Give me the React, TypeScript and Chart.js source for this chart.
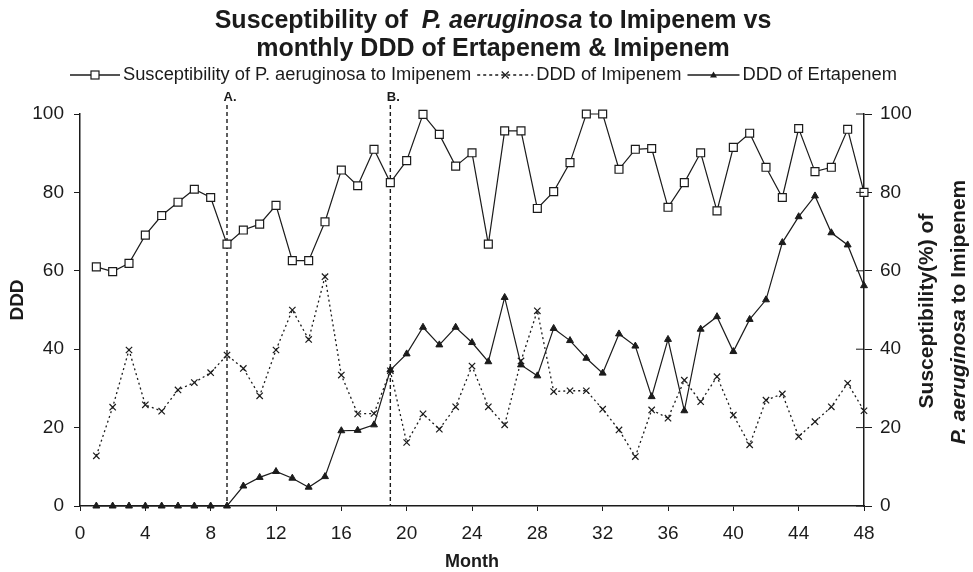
import React, { useEffect, useRef } from 'react';
import { Chart, registerables } from 'chart.js';

Chart.register(...registerables);

// ---------- data ----------
const months = [
  1, 2, 3, 4, 5, 6, 7, 8, 9, 10, 11, 12, 13, 14, 15, 16, 17, 18, 19, 20, 21, 22, 23, 24,
  25, 26, 27, 28, 29, 30, 31, 32, 33, 34, 35, 36, 37, 38, 39, 40, 41, 42, 43, 44, 45, 46, 47, 48,
];

// Susceptibility (%) of P. aeruginosa to Imipenem (right axis)
const susceptibility = [
  61.0, 59.8, 61.9, 69.1, 74.1, 77.5, 80.8, 78.7, 66.8, 70.4,
  71.9, 76.7, 62.6, 62.6, 72.5, 85.7, 81.7, 91.0, 82.5, 88.1,
  99.9, 94.8, 86.7, 90.1, 66.8, 95.7, 95.7, 75.9, 80.2, 87.6,
  100, 100, 85.9, 91.0, 91.2, 76.2, 82.5, 90.1, 75.3, 91.5,
  95.1, 86.4, 78.7, 96.3, 85.3, 86.4, 96.1, 80.0,
];

// DDD of Imipenem (left axis)
const imipenemDDD = [
  12.8, 25.2, 39.8, 25.8, 24.2, 29.6, 31.5, 34.0, 38.5, 35.1,
  28.1, 39.8, 50.0, 42.5, 58.5, 33.4, 23.5, 23.6, 34.5, 16.2,
  23.5, 19.6, 25.3, 35.7, 25.3, 20.7, 37.0, 49.8, 29.2, 29.4,
  29.4, 24.7, 19.4, 12.6, 24.5, 22.4, 32.1, 26.6, 33.0, 23.2,
  15.6, 27.0, 28.6, 17.7, 21.5, 25.3, 31.3, 24.3,
];

// DDD of Ertapenem (left axis)
const ertapenemDDD = [
  0, 0, 0, 0, 0, 0, 0, 0, 0, 5.1,
  7.3, 8.8, 7.1, 4.8, 7.5, 19.2, 19.3, 20.7, 34.7, 38.8,
  45.6, 41.1, 45.6, 41.7, 36.8, 53.2, 36.0, 33.2, 45.3, 42.2,
  37.7, 33.9, 43.9, 40.8, 27.9, 42.5, 24.3, 45.1, 48.3, 39.4,
  47.6, 52.6, 67.2, 73.8, 79.1, 69.7, 66.6, 56.2,
];

const eventMonths = [9, 19];
const eventLabels = ['A.', 'B.'];

const seriesNames = [
  'Susceptibility of P. aeruginosa to Imipenem',
  'DDD of Imipenem',
  'DDD of Ertapenem',
];

// ---------- styles ----------
const INK = '#1b1b1b';
const FONT = '"Liberation Sans", Arial, Helvetica, sans-serif';

type Seg = { t: string; italic?: boolean };

function fontStr(size: number, bold: boolean, italic?: boolean) {
  return `${italic ? 'italic ' : ''}${bold ? 'bold ' : ''}${size}px ${FONT}`;
}

function drawSegs(ctx: CanvasRenderingContext2D, segs: Seg[], cx: number, cy: number, size: number, bold: boolean) {
  const widths = segs.map((s) => {
    ctx.font = fontStr(size, bold, s.italic);
    return ctx.measureText(s.t).width;
  });
  const total = widths.reduce((a, b) => a + b, 0);
  let x = cx - total / 2;
  ctx.textAlign = 'left';
  ctx.textBaseline = 'middle';
  segs.forEach((s, i) => {
    ctx.font = fontStr(size, bold, s.italic);
    ctx.fillText(s.t, x, cy);
    x += widths[i];
  });
}

function marker(ctx: CanvasRenderingContext2D, kind: string, x: number, y: number) {
  ctx.save();
  ctx.setLineDash([]);
  ctx.strokeStyle = INK;
  ctx.fillStyle = INK;
  ctx.lineWidth = 1.2;
  if (kind === 'rect') {
    ctx.fillStyle = '#fff';
    ctx.fillRect(x - 4, y - 4, 8, 8);
    ctx.strokeRect(x - 4, y - 4, 8, 8);
  } else if (kind === 'cross') {
    ctx.beginPath();
    ctx.moveTo(x - 3.5, y - 3.5);
    ctx.lineTo(x + 3.5, y + 3.5);
    ctx.moveTo(x + 3.5, y - 3.5);
    ctx.lineTo(x - 3.5, y + 3.5);
    ctx.stroke();
  } else {
    ctx.beginPath();
    ctx.moveTo(x, y - 3.5);
    ctx.lineTo(x + 3.5, y + 2.5);
    ctx.lineTo(x - 3.5, y + 2.5);
    ctx.closePath();
    ctx.fill();
  }
  ctx.restore();
}

const decorPlugin = {
  id: 'decor',
  beforeDatasetsDraw(chart: any) {
    const ctx: CanvasRenderingContext2D = chart.ctx;
    const xs = chart.scales.x;
    const ca = chart.chartArea;
    ctx.save();
    eventMonths.forEach((m, i) => {
      const px = xs.getPixelForValue(m);
      ctx.strokeStyle = INK;
      ctx.lineWidth = 1.4;
      ctx.setLineDash([4, 3]);
      ctx.beginPath();
      ctx.moveTo(px, ca.top - 9);
      ctx.lineTo(px, ca.bottom);
      ctx.stroke();
      ctx.setLineDash([]);
      ctx.fillStyle = INK;
      ctx.font = fontStr(13, true);
      ctx.textAlign = 'center';
      ctx.textBaseline = 'middle';
      ctx.fillText(eventLabels[i], px + 3, ca.top - 17);
    });
    ctx.restore();
  },
  afterDraw(chart: any) {
    const ctx: CanvasRenderingContext2D = chart.ctx;
    const ca = chart.chartArea;
    const y1 = chart.scales.y1;
    ctx.save();
    ctx.fillStyle = INK;

    // title
    drawSegs(ctx, [
      { t: 'Susceptibility of  ' },
      { t: 'P. aeruginosa', italic: true },
      { t: ' to Imipenem vs' },
    ], 493, 21, 25, true);
    drawSegs(ctx, [{ t: 'monthly DDD of Ertapenem & Imipenem' }], 493, 49, 25, true);

    // legend
    const ly = 75;
    const lsize = 18.3;
    let x = 70;
    const kinds = ['rect', 'cross', 'tri'];
    const sampleW = [50, 56, 52];
    seriesNames.forEach((name, i) => {
      ctx.save();
      ctx.strokeStyle = INK;
      ctx.lineWidth = 1.3;
      ctx.setLineDash(i === 1 ? [3, 3] : []);
      ctx.beginPath();
      ctx.moveTo(x, ly);
      ctx.lineTo(x + sampleW[i], ly);
      ctx.stroke();
      ctx.restore();
      marker(ctx, kinds[i], x + sampleW[i] / 2, ly);
      x += sampleW[i] + 3;
      ctx.font = fontStr(lsize, false);
      ctx.textAlign = 'left';
      ctx.textBaseline = 'middle';
      ctx.fillStyle = INK;
      ctx.fillText(name, x, ly);
      x += ctx.measureText(name).width + 6;
    });

    // right axis inward tick halves
    ctx.strokeStyle = INK;
    ctx.lineWidth = 1;
    y1.ticks.forEach((t: any) => {
      const py = y1.getPixelForValue(t.value);
      ctx.beginPath();
      ctx.moveTo(ca.right - 8, py);
      ctx.lineTo(ca.right, py);
      ctx.stroke();
    });

    // axis titles
    ctx.fillStyle = INK;
    drawSegs(ctx, [{ t: 'Month' }], 472, 562, 18, true);

    ctx.save();
    ctx.translate(18, 300);
    ctx.rotate(-Math.PI / 2);
    drawSegs(ctx, [{ t: 'DDD' }], 0, 0, 19, true);
    ctx.restore();

    ctx.save();
    ctx.translate(927, 311);
    ctx.rotate(-Math.PI / 2);
    drawSegs(ctx, [{ t: 'Susceptibility(%) of' }], 0, 0, 21, true);
    ctx.restore();

    ctx.save();
    ctx.translate(959, 312);
    ctx.rotate(-Math.PI / 2);
    drawSegs(ctx, [{ t: 'P. aeruginosa', italic: true }, { t: ' to Imipenem' }], 0, 0, 21, true);
    ctx.restore();

    ctx.restore();
  },
};

export default function App() {
  const ref = useRef<HTMLCanvasElement | null>(null);

  useEffect(() => {
    if (!ref.current) return;
    const pts = (arr: number[]) => months.map((m, i) => ({ x: m, y: arr[i] }));
    const tickFont = { size: 19, family: FONT };
    const chart = new Chart(ref.current, {
      type: 'line',
      data: {
        datasets: [
          {
            label: seriesNames[0],
            data: pts(susceptibility),
            yAxisID: 'y1',
            borderColor: INK,
            borderWidth: 1.2,
            pointStyle: 'rect',
            pointRadius: 5.6,
            pointBackgroundColor: '#fff',
            pointBorderColor: INK,
            pointBorderWidth: 1.2,
            tension: 0,
            clip: false,
          },
          {
            label: seriesNames[1],
            data: pts(imipenemDDD),
            yAxisID: 'y',
            borderColor: INK,
            borderWidth: 1.3,
            borderDash: [2, 3],
            pointStyle: 'crossRot',
            pointRadius: 4.5,
            pointBorderColor: INK,
            pointBorderWidth: 1.2,
            tension: 0,
            clip: false,
          },
          {
            label: seriesNames[2],
            data: pts(ertapenemDDD),
            yAxisID: 'y',
            borderColor: INK,
            borderWidth: 1.2,
            pointStyle: 'triangle',
            pointRadius: 4,
            pointBackgroundColor: INK,
            pointBorderColor: INK,
            pointBorderWidth: 1,
            tension: 0,
            clip: false,
          },
        ],
      },
      options: {
        animation: false,
        responsive: false,
        maintainAspectRatio: false,
        layout: { padding: { top: 114, left: 0, right: 0, bottom: 0 } },
        plugins: {
          legend: { display: false },
          title: { display: false },
          tooltip: { enabled: false },
        },
        scales: {
          x: {
            type: 'linear',
            min: 0,
            max: 48,
            ticks: { stepSize: 4, font: tickFont, color: INK, padding: 11, maxRotation: 0 },
            grid: { drawOnChartArea: false, drawTicks: true, tickLength: 5, color: INK, lineWidth: 1 },
            border: { display: true, color: INK, width: 1.5 },
            afterFit: (s: any) => { s.height = 66; },
          },
          y: {
            position: 'left',
            min: 0,
            max: 100,
            ticks: { stepSize: 20, font: tickFont, color: INK, padding: 10 },
            grid: { drawOnChartArea: false, drawTicks: true, tickLength: 6, color: INK, lineWidth: 1 },
            border: { display: true, color: INK, width: 1.5 },
            afterFit: (s: any) => { s.width = 80; },
          },
          y1: {
            position: 'right',
            min: 0,
            max: 100,
            ticks: { stepSize: 20, font: tickFont, color: INK, padding: 8 },
            grid: { drawOnChartArea: false, drawTicks: true, tickLength: 8, color: INK, lineWidth: 1 },
            border: { display: true, color: INK, width: 1.5 },
            afterFit: (s: any) => { s.width = 109; },
          },
        },
      } as any,
      plugins: [decorPlugin],
    });
    return () => chart.destroy();
  }, []);

  return (
    <div style={{ position: 'fixed', left: 0, top: 0, width: 973, height: 572, background: '#fff' }}>
      <canvas ref={ref} width={973} height={572} style={{ width: 973, height: 572, display: 'block' }} />
    </div>
  );
}
